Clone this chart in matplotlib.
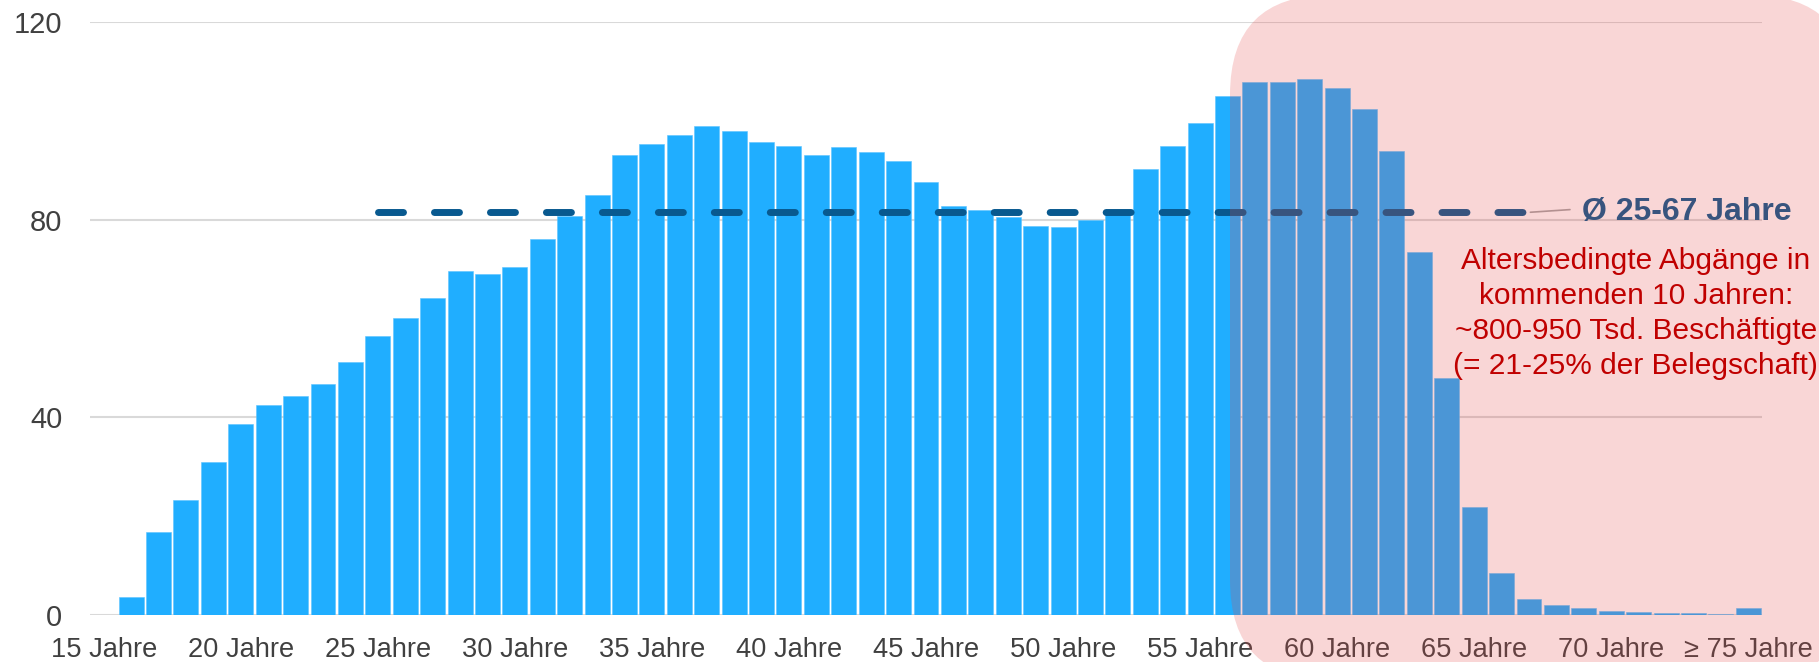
import matplotlib
matplotlib.use("Agg")
import matplotlib.pyplot as plt
from matplotlib.patches import FancyBboxPatch
from matplotlib.transforms import IdentityTransform

plt.rcParams['font.family'] = ['Liberation Sans', 'DejaVu Sans']
plt.rcParams['lines.scale_dashes'] = False

# ---- data ----
ages = list(range(15, 76))
employees = [0, 3.7, 16.7, 23.3, 31.0, 38.7, 42.4, 44.4, 46.7, 51.1,
             56.4, 60.2, 64.1, 69.6, 69.1, 70.4, 76.0, 80.8, 84.9, 93.0,
             95.3, 97.2, 99.0, 98.0, 95.7, 94.9, 93.1, 94.8, 93.6, 91.9,
             87.7, 82.8, 82.0, 80.6, 78.7, 78.5, 80.0, 81.5, 90.2, 95.0,
             99.6, 105.0, 107.8, 107.9, 108.4, 106.7, 102.3, 93.8, 73.4, 47.9,
             21.9, 8.6, 3.3, 2.1, 1.4, 0.9, 0.7, 0.5, 0.4, 0.3, 1.5]
tick_ages = [15, 20, 25, 30, 35, 40, 45, 50, 55, 60, 65, 70, 75]
tick_labels = ["15 Jahre", "20 Jahre", "25 Jahre", "30 Jahre", "35 Jahre",
               "40 Jahre", "45 Jahre", "50 Jahre", "55 Jahre", "60 Jahre",
               "65 Jahre", "70 Jahre", "≥ 75 Jahre"]
avg_value = 81.5
avg_from, avg_to = 25, 67
yticks = [0, 40, 80, 120]
avg_label = "Ø 25-67 Jahre"
note = ("Altersbedingte Abgänge in\nkommenden 10 Jahren:\n"
        "~800-950 Tsd. Beschäftigte\n(= 21-25% der Belegschaft)")

W, H = 1819, 662
fig = plt.figure(figsize=(W / 100, H / 100), dpi=100)
ax = fig.add_axes([90 / W, (H - 615) / H, (1762 - 90) / W, (615 - 22) / H])

x = [a - ages[0] for a in ages]
ax.bar(x, employees, width=0.91, color='#20aeff', edgecolor='#5cc3ff',
       linewidth=0.4, zorder=2)

ax.set_xlim(-0.5, len(ages) - 0.5)
ax.set_ylim(0, 120)
ax.set_yticks(yticks)
ax.set_xticks([a - ages[0] for a in tick_ages])
ax.set_xticklabels(tick_labels)
ax.tick_params(axis='both', length=0, labelcolor='#404040')
ax.tick_params(axis='y', pad=20, labelsize=21)
ax.tick_params(axis='x', pad=15.5, labelsize=19.6)
ax.grid(axis='y', color='#d9d9d9', linewidth=1.5, zorder=0)
ax.set_axisbelow(True)
for s in ax.spines.values():
    s.set_visible(False)

# average dashed line
ax.plot([avg_from - ages[0], avg_to - ages[0]], [avg_value, avg_value],
        color='#08598f', linewidth=5.0, dashes=(18, 22.3),
        dash_capstyle='round', zorder=3)
ax.annotate(avg_label, xy=(avg_to - ages[0] + 0.05, avg_value),
            xytext=(avg_to - ages[0] + 1.95, avg_value + 0.1),
            fontsize=23, fontweight='bold', color='#08598f',
            ha='left', va='center', annotation_clip=False,
            arrowprops=dict(arrowstyle='-', color='#a6a6a6', lw=1.2,
                            shrinkA=7, shrinkB=0, relpos=(0, 0.6)))

# highlight region (figure-level, on top)
hl = FancyBboxPatch((1230, H - 680), 1851 - 1230, 685,
                    boxstyle="round,pad=0,rounding_size=100",
                    transform=IdentityTransform(), facecolor=(228/255, 69/255, 69/255),
                    alpha=0.22, edgecolor='none', zorder=5)
fig.patches.append(hl)

fig.text(55.9, 61.0, note, transform=ax.transData, ha='center', va='center',
         multialignment='center', fontsize=21.5, color='#c00000',
         linespacing=1.32, zorder=6)

fig.savefig("out.png", dpi=100)
